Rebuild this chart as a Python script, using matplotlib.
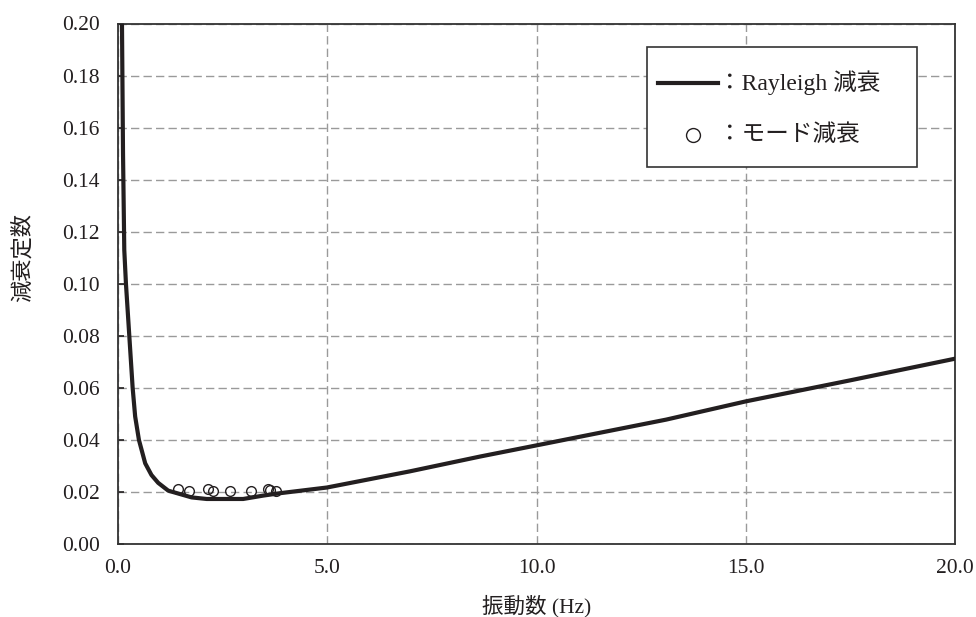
import matplotlib
matplotlib.use("Agg")
import matplotlib.pyplot as plt
from matplotlib.lines import Line2D
from matplotlib.patches import Rectangle

plt.rcParams['font.family'] = ['Liberation Serif', 'Noto Sans CJK JP', 'DejaVu Sans']

# ---- data ----
rayleigh_f = [0.09, 0.12, 0.15, 0.19, 0.27, 0.35, 0.41, 0.50, 0.65, 0.80, 0.96,
              1.20, 1.76, 2.12, 2.99, 3.47, 3.86, 4.99, 6.97, 8.65, 9.97,
              11.0, 13.1, 15.0, 17.5, 20.0]
rayleigh_h = [0.210, 0.150, 0.113, 0.100, 0.080, 0.060, 0.049, 0.040, 0.031, 0.0265, 0.0235,
              0.0205, 0.0179, 0.0173, 0.0173, 0.0186, 0.0195, 0.0217, 0.0279, 0.0336, 0.0378,
              0.0411, 0.0478, 0.0548, 0.0629, 0.0712]

mode_f = [1.43, 1.70, 2.15, 2.27, 2.68, 3.17, 3.58, 3.63, 3.77]
mode_h = [0.0211, 0.0204, 0.0211, 0.0204, 0.0202, 0.0202, 0.0211, 0.0208, 0.0204]

x_ticks = [0.0, 5.0, 10.0, 15.0, 20.0]
x_ticklabels = ["0.0", "5.0", "10.0", "15.0", "20.0"]
y_ticks = [0.00, 0.02, 0.04, 0.06, 0.08, 0.10, 0.12, 0.14, 0.16, 0.18, 0.20]
y_ticklabels = ["0.00", "0.02", "0.04", "0.06", "0.08", "0.10",
                "0.12", "0.14", "0.16", "0.18", "0.20"]

legend_labels = ["：Rayleigh 減衰", "：モード減衰"]
x_label = "振動数 (Hz)"
y_label = "減衰定数"

# ---- figure ----
W, H = 976, 617
fig = plt.figure(figsize=(W / 100, H / 100), dpi=100)

def fx(px):
    return px / W

def fy(py):
    return 1 - py / H

ax_l, ax_r, ax_t, ax_b = 118, 955, 23.5, 544
ax = fig.add_axes([fx(ax_l), fy(ax_b), fx(ax_r) - fx(ax_l), fy(ax_t) - fy(ax_b)])

ink = "#231f20"
ax.plot(rayleigh_f, rayleigh_h, color=ink, lw=3.0, solid_joinstyle='round', zorder=3)
ax.plot(mode_f, mode_h, linestyle='none', marker='o', ms=7.0, mfc='none',
        mec=ink, mew=1.0, zorder=4)

ax.set_xlim(0, 20)
ax.set_ylim(0, 0.20)
ax.set_xticks(x_ticks)
ax.set_xticklabels(x_ticklabels, fontsize=15.5)
ax.set_yticks(y_ticks)
ax.set_yticklabels(y_ticklabels, fontsize=15.5)

ax.tick_params(axis='x', length=0, pad=11, colors=ink)
ax.tick_params(axis='y', direction='in', length=4, width=1.2, pad=13, colors=ink)

for s in ax.spines.values():
    s.set_linewidth(1.3)
    s.set_color("#333333")

ax.grid(True, color="#9a9a9a", linestyle=(0, (6.0, 3.0)), linewidth=1.0, zorder=0)
ax.set_axisbelow(True)

ax.set_xlabel(x_label, fontsize=15.5, color=ink)
ax.xaxis.label.set_va('center')
ax.xaxis.set_label_coords(0.5, (ax_b - 606) / (ax_b - ax_t))
ax.set_ylabel(y_label, fontsize=16, color=ink)
ax.yaxis.label.set_va('center')
ax.yaxis.set_label_coords((23 - ax_l) / (ax_r - ax_l), (ax_b - 257) / (ax_b - ax_t))

# ---- legend box (drawn manually to match layout) ----
lg_l, lg_t, lg_r, lg_b = 647, 47, 917, 167
fig.patches.append(Rectangle((fx(lg_l), fy(lg_b)), fx(lg_r) - fx(lg_l), fy(lg_t) - fy(lg_b),
                             transform=fig.transFigure, facecolor='white',
                             edgecolor='#333333', lw=1.2, zorder=5))
row1, row2 = 82.7, 135
fig.lines.append(Line2D([fx(658), fx(718)], [fy(row1), fy(row1)], transform=fig.transFigure,
                        color=ink, lw=3.0, zorder=6))
fig.lines.append(Line2D([fx(693)], [fy(row2)], transform=fig.transFigure, linestyle='none',
                        marker='o', ms=10, mfc='none', mec=ink, mew=1.0, zorder=6))
fig.text(fx(718), fy(row1), legend_labels[0], fontsize=17, va='center', ha='left',
         color=ink, zorder=7)
fig.text(fx(718), fy(row2), legend_labels[1], fontsize=17, va='center', ha='left',
         color=ink, zorder=7)

fig.savefig("out.png", dpi=100)
